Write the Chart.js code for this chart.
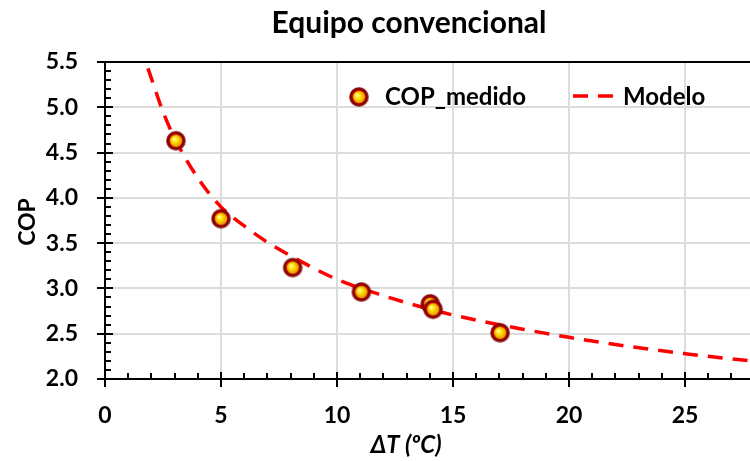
<!DOCTYPE html>
<html>
<head>
<meta charset="utf-8">
<script src="https://cdn.jsdelivr.net/npm/chart.js@4.4.1/dist/chart.umd.min.js"></script>
<style>
  html, body { margin: 0; padding: 0; background: #fff; overflow: hidden; }
  canvas { display: block; }
</style>
</head>
<body>
<canvas id="grafico" width="750" height="461"></canvas>
<script>
// Datos medidos (ΔT en ºC, COP)
const medidoX = [3.06, 5.0, 8.09, 11.05, 14.02, 14.14, 17.03];
const medidoY = [4.63, 3.77, 3.23, 2.96, 2.83, 2.77, 2.51];

// Curva del modelo
const modeloX = [1.85, 2, 2.5, 3, 4, 5, 6, 7, 8, 10, 12, 14, 16, 18, 20, 22, 25, 27.8];
const modeloY = [5.43, 5.32, 4.95, 4.66, 4.22, 3.90, 3.69, 3.51, 3.36, 3.10, 2.92, 2.77, 2.65, 2.55, 2.46, 2.38, 2.28, 2.20];

// Marcas de los ejes
const xTicks = [0, 5, 10, 15, 20, 25];
const yTicks = [2.0, 2.5, 3.0, 3.5, 4.0, 4.5, 5.0, 5.5];

const FONT = "Lato";

// marcador amarillo con borde rojo oscuro
function crearMarcador(r) {
  const c = document.createElement("canvas");
  const s = 2 * r + 2;
  c.width = c.height = s;
  const g = c.getContext("2d");
  const m = s / 2;
  const og = g.createRadialGradient(m - 1, m - 1, r * 0.4, m, m, r);
  og.addColorStop(0, "#c00000");
  og.addColorStop(0.75, "#8a0000");
  og.addColorStop(1, "rgba(110,0,0,0.55)");
  g.fillStyle = og;
  g.beginPath();
  g.arc(m, m, r, 0, Math.PI * 2);
  g.fill();
  const ig = g.createRadialGradient(m - 2, m - 2, 0.5, m, m, r * 0.62);
  ig.addColorStop(0, "#ffff9a");
  ig.addColorStop(0.45, "#ffdc00");
  ig.addColorStop(1, "#e89000");
  g.fillStyle = ig;
  g.beginPath();
  g.arc(m, m, r * 0.62, 0, Math.PI * 2);
  g.fill();
  return c;
}

// textos, marcas menores y leyenda
const extras = {
  id: "extras",
  afterDraw(chart) {
    const { ctx, chartArea: a, scales } = chart;
    const sx = scales.x, sy = scales.y;
    ctx.save();
    ctx.strokeStyle = "#000";
    ctx.lineWidth = 2;
    ctx.beginPath();
    ctx.moveTo(a.left - 1, a.top);
    ctx.lineTo(a.right, a.top);
    ctx.stroke();

    ctx.beginPath();
    for (let i = 0; i <= 27; i++) {
      const px = Math.round(sx.getPixelForValue(i));
      if (i % 5 === 0) {
        ctx.moveTo(px, a.bottom - 7);
        ctx.lineTo(px, a.bottom + 8);
      } else {
        ctx.moveTo(px, a.bottom - 6);
        ctx.lineTo(px, a.bottom);
      }
    }
    for (let i = 20; i <= 55; i++) {
      const py = Math.round(sy.getPixelForValue(i / 10));
      if (i % 5 === 0) {
        ctx.moveTo(a.left - 8, py);
        ctx.lineTo(a.left + 8, py);
      } else {
        ctx.moveTo(a.left, py);
        ctx.lineTo(a.left + 6, py);
      }
    }
    ctx.stroke();

    ctx.fillStyle = "#000";
    ctx.textBaseline = "alphabetic";
    ctx.textAlign = "center";
    ctx.font = `bold 30px ${FONT}`;
    ctx.fillText("Equipo convencional", 409, 33);

    ctx.font = `italic bold 24px ${FONT}`;
    ctx.fillText("ΔT (ºC)", 406, 453);

    ctx.save();
    ctx.translate(35, 222);
    ctx.rotate(-Math.PI / 2);
    ctx.font = `bold 23px ${FONT}`;
    ctx.fillText("COP", 0, 0);
    ctx.restore();

    // leyenda
    ctx.drawImage(marcador, 359 - marcador.width / 2, 97 - marcador.height / 2);
    ctx.textAlign = "left";
    ctx.font = `bold 24px ${FONT}`;
    ctx.fillText("COP_medido", 385, 105);
    ctx.strokeStyle = "#ff0000";
    ctx.lineWidth = 3.5;
    ctx.setLineDash([15, 10]);
    ctx.beginPath();
    ctx.moveTo(573, 96);
    ctx.lineTo(614, 96);
    ctx.stroke();
    ctx.setLineDash([]);
    ctx.fillText("Modelo", 623, 105);
    ctx.restore();
  },
};

const marcador = crearMarcador(10);

function dibujar() {
  const ctx = document.getElementById("grafico").getContext("2d");
  new Chart(ctx, {
    type: "scatter",
    data: {
      datasets: [
        {
          label: "COP_medido",
          data: medidoX.map((x, i) => ({ x, y: medidoY[i] })),
          pointStyle: marcador,
          pointRadius: 10,
        },
        {
          label: "Modelo",
          data: modeloX.map((x, i) => ({ x, y: modeloY[i] })),
          showLine: true,
          pointRadius: 0,
          borderColor: "#ff0000",
          borderWidth: 3.5,
          borderDash: [15, 10],
          cubicInterpolationMode: "monotone",
        },
      ],
    },
    options: {
      responsive: false,
      animation: false,
      layout: { autoPadding: false, padding: { top: 62, left: 0, right: 0, bottom: 0 } },
      plugins: {
        legend: { display: false },
        title: { display: false },
        tooltip: { enabled: false },
      },
      scales: {
        x: {
          type: "linear",
          min: 0,
          max: 27.8,
          afterBuildTicks: (s) => { s.ticks = xTicks.map((v) => ({ value: v })); },
          afterFit: (s) => {
            s.height = 82;
            s.paddingLeft = 0;
            s.paddingRight = 0;
          },
          grid: { color: "#dcdcdc", lineWidth: 2, drawTicks: false },
          border: { display: true, color: "#000", width: 2 },
          ticks: {
            color: "#000",
            padding: 23,
            maxRotation: 0,
            autoSkip: false,
            font: { family: FONT, weight: "bold", size: 23 },
          },
        },
        y: {
          min: 2.0,
          max: 5.5,
          afterBuildTicks: (s) => { s.ticks = yTicks.map((v) => ({ value: v })); },
          afterFit: (s) => {
            s.width = 105;
            s.paddingTop = 0;
            s.paddingBottom = 0;
          },
          grid: { color: "#dcdcdc", lineWidth: 2, drawTicks: false },
          border: { display: true, color: "#000", width: 2 },
          ticks: {
            color: "#000",
            padding: 27,
            autoSkip: false,
            callback: (v) => v.toFixed(1),
            font: { family: FONT, weight: "bold", size: 23 },
          },
        },
      },
    },
    plugins: [extras],
  });
}

Promise.all([
  document.fonts.load(`bold 23px ${FONT}`),
  document.fonts.load(`italic bold 24px ${FONT}`),
]).then(dibujar, dibujar);
</script>
</body>
</html>
